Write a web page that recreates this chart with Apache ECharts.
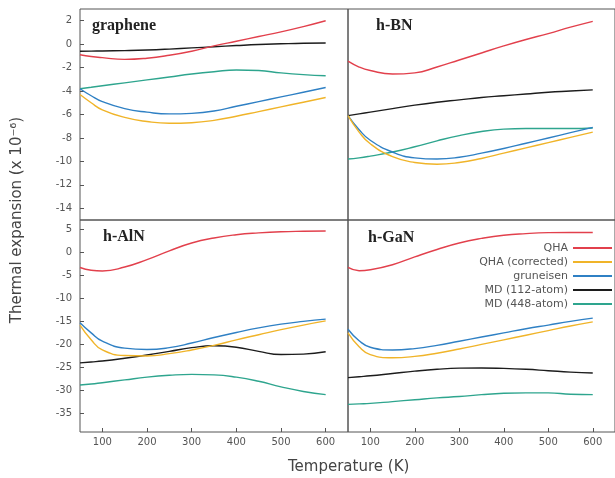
<!DOCTYPE html>
<html>
<head>
<meta charset="utf-8">
<script src="https://cdn.jsdelivr.net/npm/echarts@6/dist/echarts.min.js"></script>
<style>html,body{margin:0;padding:0;background:#fff;}#c{width:615px;height:478px;}</style>
</head>
<body>
<div id="c"></div>
<script>
// Temperatures (K)
const temps = [50, 75, 100, 150, 200, 250, 300, 350, 400, 450, 500, 550, 600];

// graphene
const grQHA    = [-0.9, -1.05, -1.15, -1.3, -1.2, -0.95, -0.6, -0.15, 0.25, 0.65, 1.05, 1.5, 2.0];
const grQHAc   = [-4.3, -5.0, -5.6, -6.25, -6.6, -6.75, -6.7, -6.5, -6.15, -5.75, -5.35, -4.95, -4.55];
const grGru    = [-3.8, -4.4, -4.9, -5.5, -5.8, -5.95, -5.9, -5.7, -5.3, -4.9, -4.5, -4.1, -3.7];
const grMD112  = [-0.6, -0.59, -0.58, -0.55, -0.5, -0.42, -0.32, -0.22, -0.12, -0.03, 0.03, 0.08, 0.1];
const grMD448  = [-3.8, -3.68, -3.55, -3.3, -3.05, -2.8, -2.55, -2.35, -2.2, -2.25, -2.45, -2.6, -2.7];

// h-BN
const bnQHA    = [-1.45, -1.95, -2.25, -2.55, -2.45, -1.95, -1.35, -0.75, -0.15, 0.4, 0.9, 1.45, 1.95];
const bnQHAc   = [-6.1, -7.5, -8.5, -9.6, -10.1, -10.25, -10.1, -9.75, -9.3, -8.85, -8.4, -7.95, -7.5];
const bnGru    = [-6.1, -7.3, -8.2, -9.2, -9.7, -9.8, -9.65, -9.3, -8.9, -8.45, -8.0, -7.55, -7.1];
const bnMD112  = [-6.1, -5.95, -5.8, -5.5, -5.2, -4.95, -4.75, -4.55, -4.4, -4.25, -4.1, -4.0, -3.9];
const bnMD448  = [-9.8, -9.7, -9.55, -9.2, -8.75, -8.25, -7.8, -7.45, -7.25, -7.2, -7.2, -7.2, -7.15];

// h-AlN
const alQHA    = [-3.3, -3.9, -4.05, -3.2, -1.6, 0.3, 2.0, 3.1, 3.8, 4.2, 4.45, 4.55, 4.6];
const alQHAc   = [-15.8, -19.0, -21.2, -22.4, -22.5, -22.0, -21.2, -20.2, -19.0, -17.9, -16.8, -15.8, -14.9];
const alGru    = [-15.3, -17.5, -19.3, -20.8, -21.1, -20.7, -19.7, -18.5, -17.4, -16.4, -15.6, -15.0, -14.5];
const alMD112  = [-24.0, -23.8, -23.6, -23.0, -22.3, -21.5, -20.7, -20.3, -20.6, -21.5, -22.2, -22.1, -21.6];
const alMD448  = [-28.8, -28.6, -28.3, -27.7, -27.1, -26.7, -26.5, -26.6, -27.1, -28.0, -29.2, -30.2, -30.9];

// h-GaN
const gaQHA    = [-3.3, -4.0, -3.8, -2.7, -1.0, 0.6, 2.0, 3.0, 3.7, 4.05, 4.25, 4.3, 4.3];
const gaQHAc   = [-17.5, -20.5, -22.2, -22.9, -22.6, -21.9, -21.0, -20.0, -19.0, -18.0, -17.0, -16.0, -15.1];
const gaGru    = [-16.7, -19.2, -20.6, -21.2, -20.9, -20.2, -19.3, -18.4, -17.5, -16.6, -15.8, -15.0, -14.3];
const gaMD112  = [-27.2, -27.0, -26.8, -26.3, -25.8, -25.4, -25.15, -25.1, -25.2, -25.4, -25.7, -26.0, -26.2];
const gaMD448  = [-33.0, -32.9, -32.8, -32.4, -32.0, -31.6, -31.3, -30.9, -30.6, -30.5, -30.5, -30.8, -30.9];

const seriesNames = ['QHA', 'QHA (corrected)', 'gruneisen', 'MD (112-atom)', 'MD (448-atom)'];
const panelNames = ['graphene', 'h-BN', 'h-AlN', 'h-GaN'];
// Tick values per axis: x ticks 100..600 (step 100); top y ticks -14..2 (step 2); bottom y ticks -35..5 (step 5)
const xTicks = [100, 200, 300, 400, 500, 600];
const yTicksTop = [-14, -12, -10, -8, -6, -4, -2, 0, 2];
const yTicksBottom = [-35, -30, -25, -20, -15, -10, -5, 0, 5];

const panelData = [
  [grQHA, grQHAc, grGru, grMD112, grMD448],
  [bnQHA, bnQHAc, bnGru, bnMD112, bnMD448],
  [alQHA, alQHAc, alGru, alMD112, alMD448],
  [gaQHA, gaQHAc, gaGru, gaMD112, gaMD448]
];

const colors = ['#e2404c', '#f0b429', '#2f80c4', '#1c1c1c', '#2ea58e'];
const grids = [
  {left: 80, top: 9, width: 268, height: 211},
  {left: 348, top: 9, width: 270, height: 211},
  {left: 80, top: 220, width: 268, height: 212},
  {left: 348, top: 220, width: 270, height: 212}
];
const yRanges = [[-15, 3], [-15, 3], [-39, 7], [-39, 7]];

const chart = echarts.init(document.getElementById('c'));
const labelFont = {fontFamily: 'DejaVu Sans', fontSize: 10, color: '#555'};

const xAxes = grids.map((g, i) => ({
  type: 'value', gridIndex: i, min: 50, max: 650, splitNumber: xTicks.length - 1,
  axisLine: {show: false, onZero: false},
  splitLine: {show: false},
  axisTick: {show: i >= 2, inside: true, length: 4, lineStyle: {color: '#555', width: 1}},
  axisLabel: Object.assign({show: i >= 2, margin: 5, showMinLabel: false, showMaxLabel: false}, labelFont)
}));
const yAxes = grids.map((g, i) => {
  const ticks = i < 2 ? yTicksTop : yTicksBottom;
  const isLeft = (i % 2 === 0);
  return {
    type: 'value', gridIndex: i, min: yRanges[i][0], max: yRanges[i][1],
    splitNumber: ticks.length,
    axisLine: {show: false, onZero: false},
    splitLine: {show: false},
    axisTick: {show: isLeft, inside: true, length: 4, lineStyle: {color: '#555', width: 1}},
    axisLabel: Object.assign({show: isLeft, margin: 8, showMinLabel: false, showMaxLabel: false}, labelFont)
  };
});

const series = [];
panelData.forEach((arrs, p) => {
  arrs.forEach((vals, k) => {
    series.push({
      name: seriesNames[k], type: 'line', xAxisIndex: p, yAxisIndex: p,
      data: temps.map((t, j) => [t, vals[j]]),
      smooth: true, showSymbol: false, symbol: 'none',
      lineStyle: {width: 1.4, color: colors[k]}, itemStyle: {color: colors[k]},
      z: 10 - k
    });
  });
});

const titlePos = [[87, 13], [371, 13], [98, 224], [363, 225]];
const titles = panelNames.map((n, i) => ({
  text: n, left: titlePos[i][0], top: titlePos[i][1],
  textStyle: {fontFamily: 'Liberation Serif', fontWeight: 'bold', fontSize: 16, color: '#222'}
}));

chart.setOption({
  animation: false,
  backgroundColor: '#fff',
  title: titles,
  grid: grids.map(g => Object.assign({show: true, borderColor: '#555', borderWidth: 1, backgroundColor: 'transparent', containLabel: false}, g)),
  xAxis: xAxes,
  yAxis: yAxes,
  legend: {
    orient: 'vertical', right: 3, top: 241, align: 'right', padding: 0,
    itemWidth: 39, itemHeight: 2, itemGap: 0,
    icon: 'rect',
    data: seriesNames,
    textStyle: {fontFamily: 'DejaVu Sans', fontSize: 11, color: '#555', lineHeight: 14},
    backgroundColor: 'transparent'
  },
  graphic: [
    {type: 'text', rotation: Math.PI / 2, x: 17, y: 220,
     style: {text: 'Thermal expansion (x 10⁻⁶)', font: '15px "DejaVu Sans"', fill: '#444', textAlign: 'center', textVerticalAlign: 'middle'}},
    {type: 'text', left: 288, top: 460,
     style: {text: 'Temperature (K)', font: '15px "DejaVu Sans"', fill: '#444'}}
  ],
  series: series
});
</script>
</body>
</html>
